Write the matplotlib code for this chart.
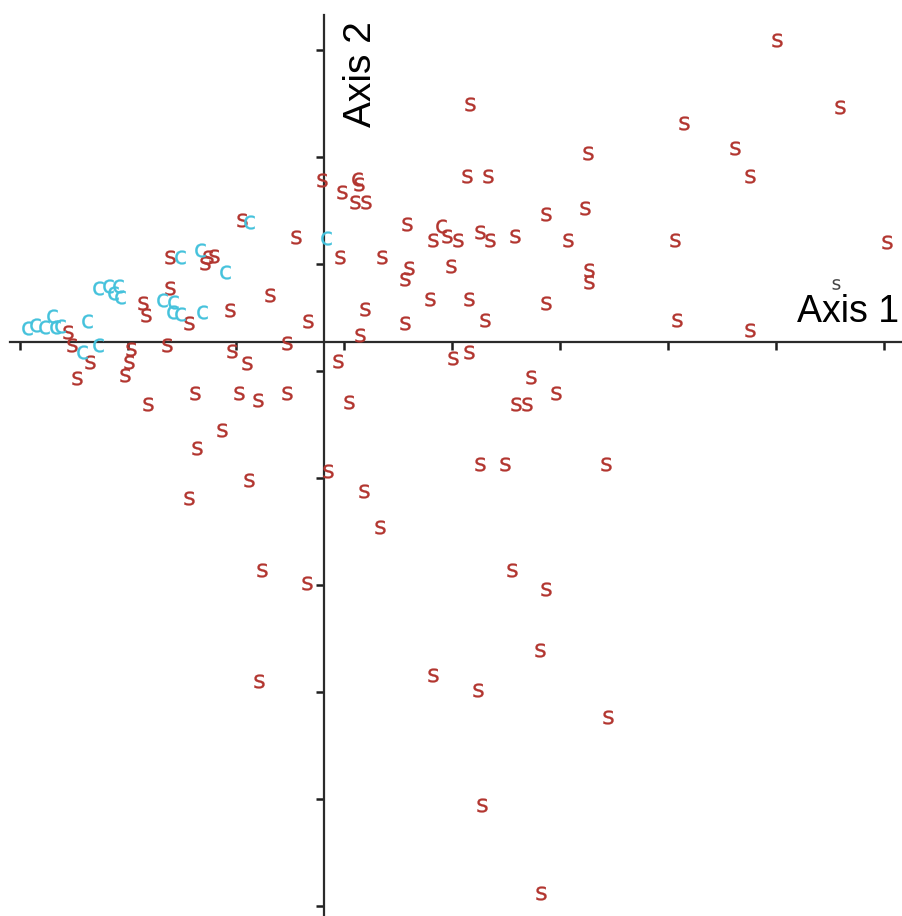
import numpy as np
import matplotlib
matplotlib.use("Agg")
import matplotlib.pyplot as plt

# ordination scores (axis 1, axis 2) for the two sample groups
s_axis1 = [4.19, 4.78, 1.35, 3.33, 2.44, 3.81, 3.94, 1.32, 1.52, -0.02,
           0.17, 0.32, 0.29, 0.39, -0.76, 0.77, 2.06, 2.42, -0.26, 1.01,
           1.14, 1.24, 1.44, 1.54, 1.77, 2.26, 3.25, 5.21, 0.15, 0.54,
           0.79, 0.75, 1.18, 2.45, 2.45, -1.43, -1.07, -1.02, -1.10, -0.50,
           0.98, 1.34, 2.06, 0.38, -0.15, -0.87, -1.68, -1.65, -1.43, -1.25,
           3.27, 3.94, 0.75, 1.49, 0.33, -2.37, -2.33, -2.17, -2.29, -1.79,
           -1.81, -1.84, -1.45, -0.85, -0.71, -0.34, 0.13, 1.19, 1.34, 1.92,
           2.15, -1.63, -1.19, -0.79, -0.61, -0.34, 0.23, 1.78, 1.88, -0.94,
           -1.18, -0.69, -1.25, 0.04, 0.37, 0.52, 1.44, 1.68, 2.61, -0.57,
           -0.16, 1.74, 2.06, 2.00, 1.01, 1.43, -0.60, 2.63, 1.46, 2.01]
s_axis2 = [2.82, 2.20, 2.22, 2.05, 1.77, 1.81, 1.55, 1.55, 1.55, 1.51,
           1.40, 1.48, 1.31, 1.31, 1.14, 1.10, 1.20, 1.25, 0.98, 0.95,
           0.99, 0.95, 1.03, 0.95, 0.99, 0.95, 0.95, 0.93, 0.79, 0.79,
           0.69, 0.59, 0.71, 0.67, 0.56, 0.79, 0.79, 0.80, 0.74, 0.44,
           0.40, 0.40, 0.36, 0.31, 0.20, 0.30, 0.36, 0.25, 0.50, 0.18,
           0.21, 0.11, 0.18, 0.21, 0.07, 0.09, -0.03, -0.19, -0.34, -0.07,
           -0.19, -0.31, -0.03, -0.08, -0.20, -0.01, -0.18, -0.15, -0.09, -0.33,
           -0.48, -0.58, -0.48, -0.48, -0.54, -0.48, -0.56, -0.58, -0.58, -0.82,
           -0.99, -1.29, -1.46, -1.21, -1.39, -1.73, -1.14, -1.14, -1.14, -2.13,
           -2.25, -2.13, -2.31, -2.88, -3.11, -3.25, -3.17, -3.50, -4.33, -5.15]

c_axis1 = [-0.69, 0.02, -1.33, -1.15, -0.92, -2.09, -2.00, -1.91, -1.89, -1.95,
           -1.50, -1.40, -1.41, -1.33, -1.13, -2.75, -2.68, -2.59, -2.52, -2.49,
           -2.44, -2.19, -2.09, -2.24]
c_axis2 = [1.12, 0.97, 0.79, 0.86, 0.65, 0.50, 0.52, 0.52, 0.42, 0.46,
           0.39, 0.37, 0.28, 0.26, 0.28, 0.13, 0.16, 0.14, 0.24, 0.14,
           0.15, 0.20, -0.03, -0.09]

# two overlapping group-s labels that render as a red "c"
s_c_axis1 = [0.31, 1.08]
s_c_axis2 = [1.52, 1.08]

# sample sitting underneath the axis 1 title
dark_axis1 = [4.74]
dark_axis2 = [0.54]

xticks = -2.815 + np.arange(9)
yticks = 2.729 - np.arange(9)

red = "#b2352f"
cyan = "#45c2dc"

fig = plt.figure(figsize=(9.02, 9.16), dpi=100)
ax = fig.add_axes([0, 0, 1, 1])
ax.set_xlim(-3.0, 5.352)
ax.set_ylim(-5.364, 3.196)

for side in ["top", "right"]:
    ax.spines[side].set_visible(False)
ax.spines["bottom"].set_position(("data", 0))
ax.spines["left"].set_position(("data", 0))
ax.spines["bottom"].set_bounds(-2.907, 5.352)
ax.spines["left"].set_bounds(-5.364, 3.056)
for side in ["bottom", "left"]:
    ax.spines[side].set_linewidth(1.6)
    ax.spines[side].set_color("#2b2b2b")

ax.set_xticks(xticks)
ax.set_yticks(yticks)
ax.tick_params(direction="out", length=6, width=1.8, color="#1e1e1e",
               labelbottom=False, labelleft=False)

s_marker = r"$\mathsf{s}$"
c_marker = r"$\mathsf{c}$"
ax.scatter(s_axis1, s_axis2, marker=s_marker, s=100, c=red, linewidths=0.2, zorder=3)
ax.scatter(s_c_axis1, s_c_axis2, marker=c_marker, s=100, c=red, linewidths=0.2, zorder=3)
ax.scatter(c_axis1, c_axis2, marker=c_marker, s=100, c=cyan, linewidths=0.2, zorder=3)
ax.scatter(dark_axis1, dark_axis2, marker=s_marker, s=60, c="#444444", linewidths=0, zorder=3)

label_font = ["Liberation Sans", "DejaVu Sans"]
ax.text(4.38, 0.187, "Axis 1", fontsize=27, family=label_font,
        ha="left", va="baseline", color="#000000", zorder=4)
ax.text(0.34, 3.0, "Axis 2", fontsize=28, family=label_font, rotation=90,
        ha="center", va="top", color="#000000", zorder=4)

fig.savefig("out.png", dpi=100)
